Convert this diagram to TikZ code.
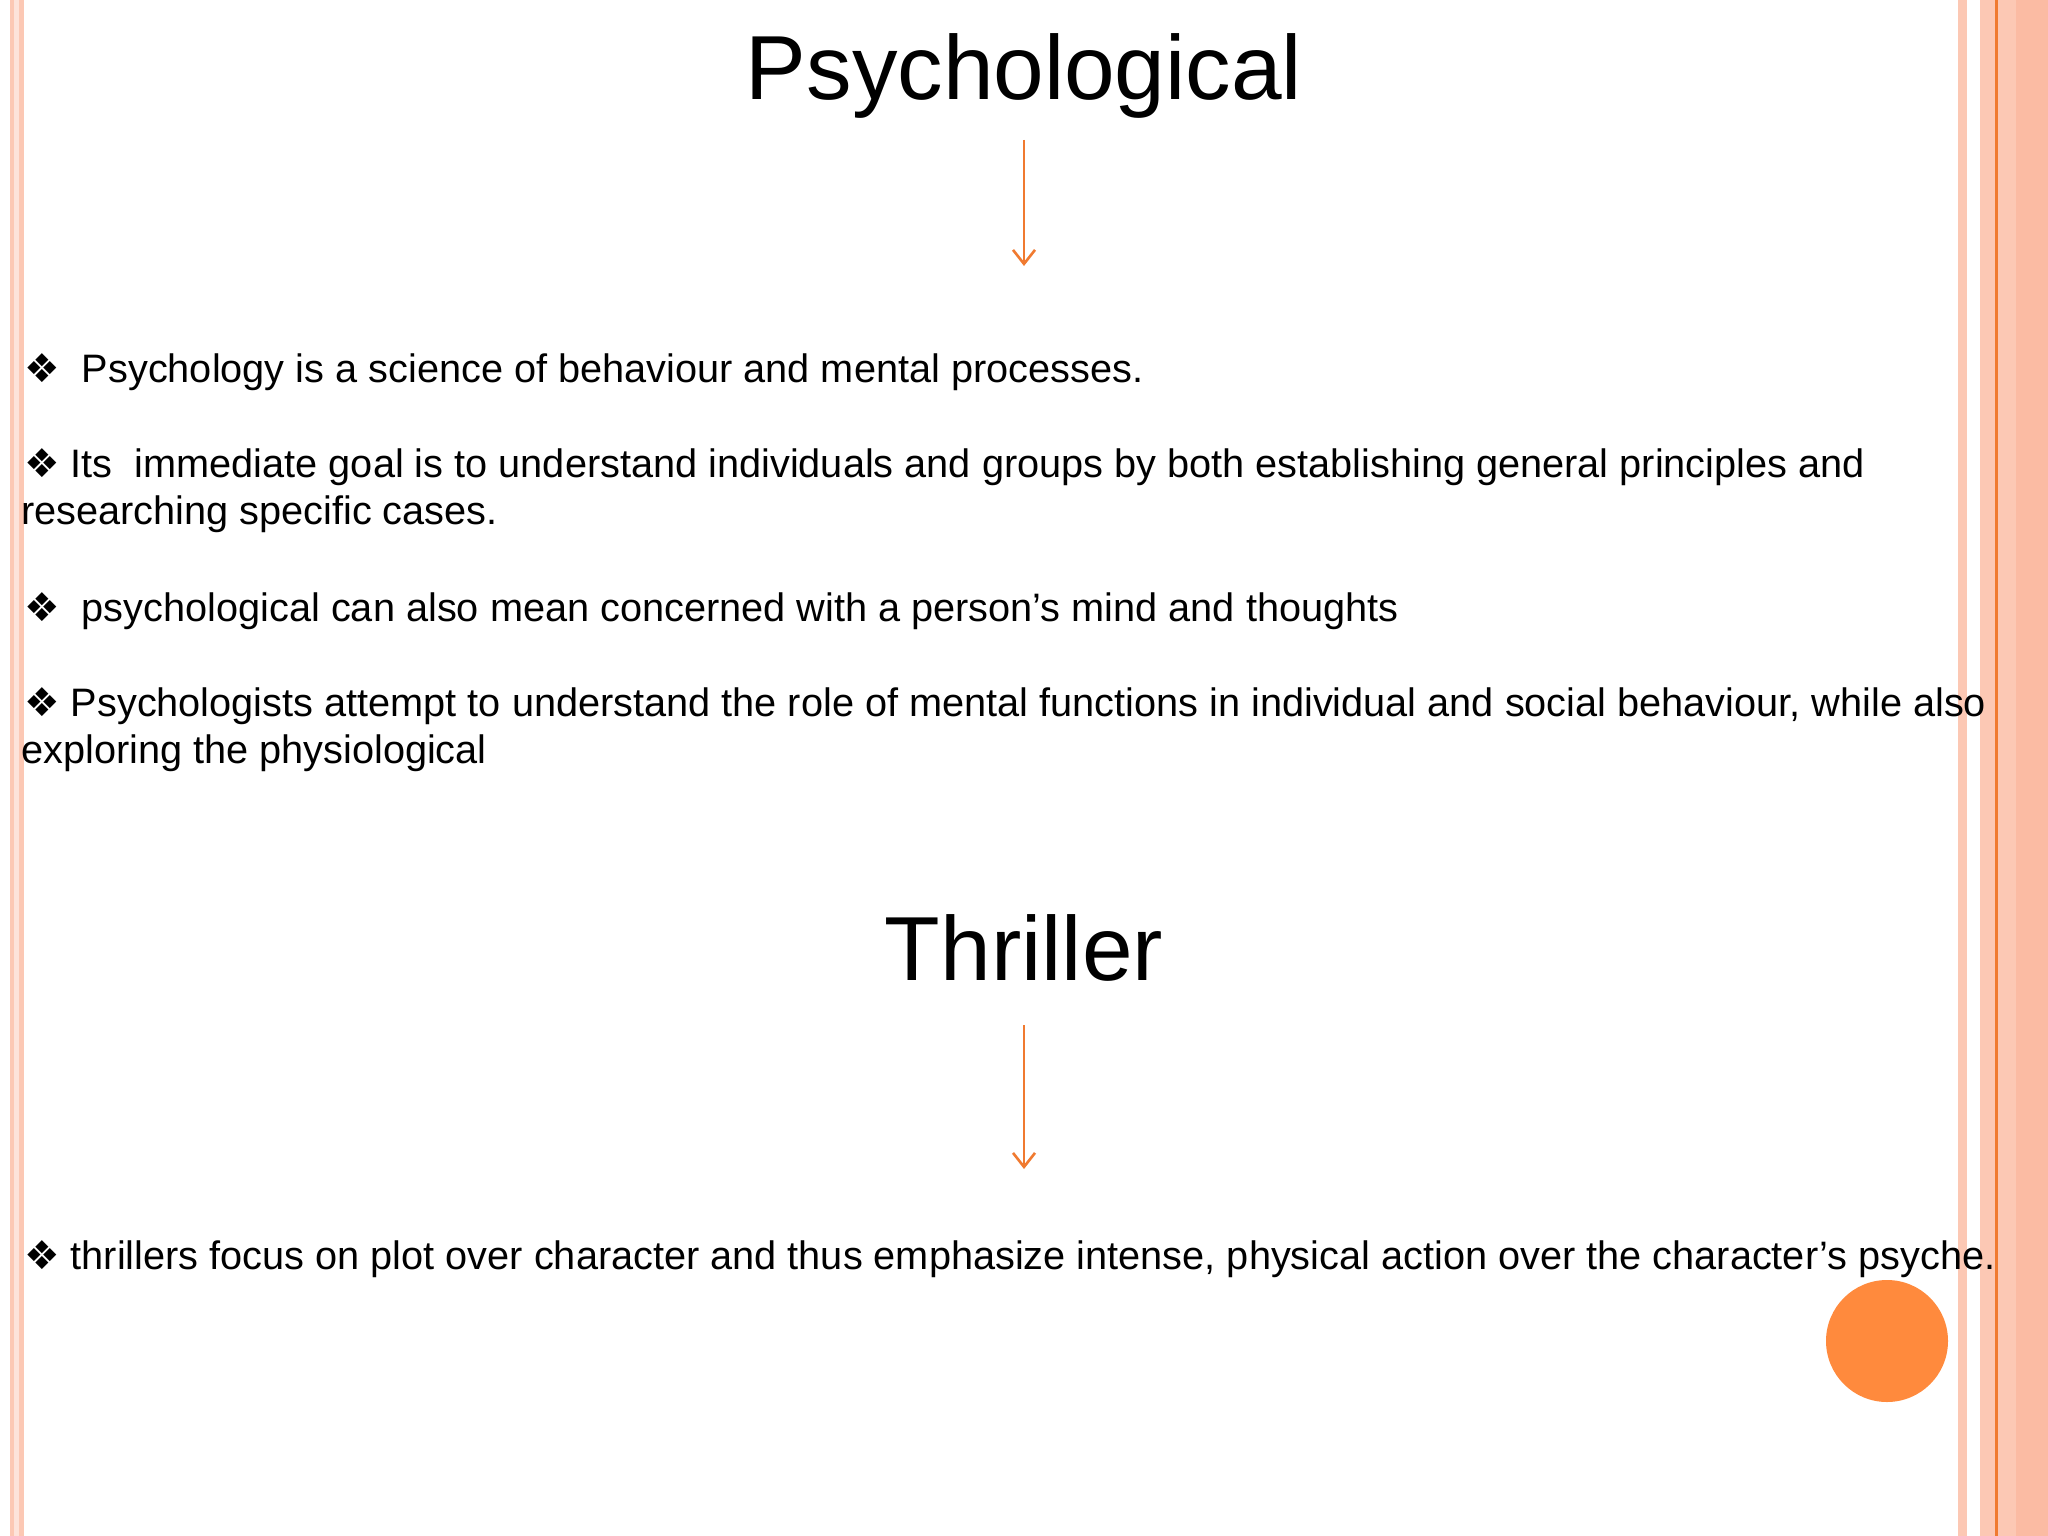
\documentclass[tikz,border=0pt]{standalone}
\usepackage{fontspec}
\setmainfont{Liberation Sans}
\newfontfamily\djv{DejaVu Sans}
\usetikzlibrary{arrows.meta}
\definecolor{pinkA}{HTML}{FCC8B4}
\definecolor{pinkB}{HTML}{FBBBA3}
\definecolor{orA}{HTML}{F07A30}
\definecolor{circ}{HTML}{FF8A3D}
\newcommand{\bul}{{\djv\char"2756}}
\begin{document}
\begin{tikzpicture}[x=1pt,y=-1pt,
  body/.style={anchor=base west,inner sep=0pt,font=\fontsize{39.7}{46}\selectfont},
  title/.style={anchor=base,inner sep=0pt,font=\fontsize{91}{110}\selectfont},
  arr/.style={draw=orA,line width=2.6pt,-{Straight Barb[length=14pt,width=22pt,line width=2.6pt]}}]
\useasboundingbox (0,0) rectangle (2048,1536);
\fill[white] (0,0) rectangle (2048,1536);
% left stripe
\fill[pinkA] (10,0) rectangle (24,1536);
\fill[pinkA!50!white] (14,0) rectangle (19,1536);
% right stripes
\fill[pinkA] (1958,0) rectangle (1967,1536);
\fill[pinkA] (1980,0) rectangle (2048,1536);
\fill[pinkB] (2016,0) rectangle (2048,1536);
\fill[orA] (1995,0) rectangle (1998,1536);
% titles
\node[title] (t1) at (1024,100) {Psychological};
\node[title] (t2) at (1024,980) {Thriller};
\coordinate (a1s) at (1024,140); \coordinate (a1e) at (1024,266);
\coordinate (a2s) at (1024,1025); \coordinate (a2e) at (1024,1169);
\draw[arr] (a1s) -- (a1e);
\draw[arr] (a2s) -- (a2e);
% body
\node[body] (l1) at (24,382) {\bul\ \ Psychology is a science of behaviour and mental processes.};
\node[body] (l2) at (24,477) {\bul\ Its\ \ immediate goal is to understand individuals and groups by both establishing general principles and};
\node[body] (l2b) at (21,524) {researching specific cases.};
\node[body] (l3) at (24,621) {\bul\ \ psychological can also mean concerned with a person’s mind and thoughts};
\node[body] (l4) at (24,716) {\bul\ Psychologists attempt to understand the role of mental functions in individual and social behaviour, while also};
\node[body] (l4b) at (21,763) {exploring the physiological};
\node[body] (l5) at (24,1269) {\bul\ thrillers focus on plot over character and thus emphasize intense, physical action over the character\char"27 s psyche.};
\fill[circ] (1887,1341) circle (61);
\end{tikzpicture}
\end{document}
